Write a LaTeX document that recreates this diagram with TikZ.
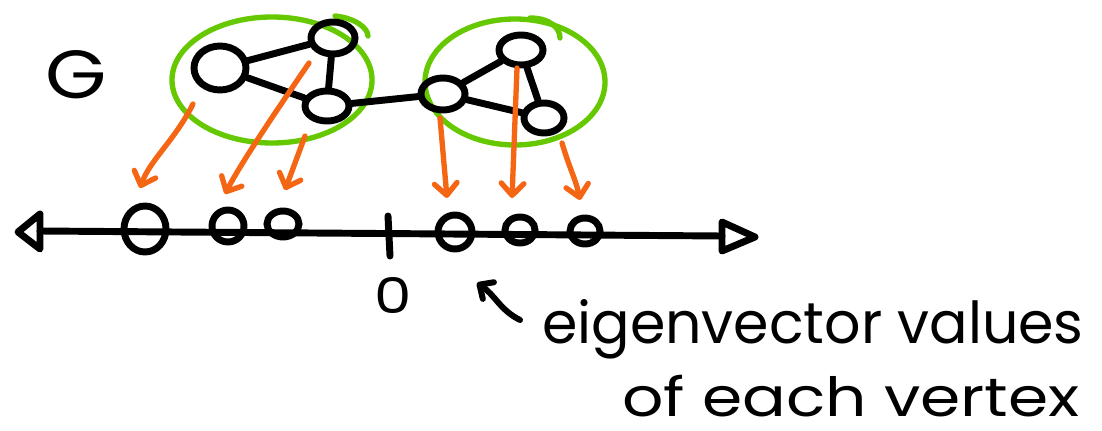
\documentclass[tikz,border=0pt]{standalone}
\usepackage{fontspec}
\setmainfont{Poppins}
\usepackage{graphicx}
\usetikzlibrary{shapes.geometric,arrows.meta}
\definecolor{hgreen}{RGB}{102,200,0}
\definecolor{horange}{RGB}{245,102,20}
\begin{document}
\begin{tikzpicture}[x=0.75pt,y=-0.75pt,
 ink/.style={line width=5.2pt, black, line cap=round, line join=round},
 vtx/.style={ellipse, draw, line width=5.2pt, inner sep=0pt},
 grn/.style={draw=hgreen, line width=4pt, line cap=round},
 oarr/.style={draw=horange, line width=4pt, line cap=round, -{Straight Barb[length=9pt,width=17pt,line width=4pt,round]}},
 barr/.style={ink, line width=4.5pt, -{Straight Barb[length=8pt,width=15pt,line width=4.5pt,round]}},
 txt/.style={inner sep=0pt},
]
\useasboundingbox (0,0) rectangle (1102,431);

% clusters
\draw[grn] (272,80) ellipse [x radius=100, y radius=63];
\draw[grn] (335,16) .. controls (355,18) and (368,28) .. (368,36);
\draw[grn] (515,82) ellipse [x radius=90, y radius=63];
\draw[grn] (530,18) .. controls (550,18) and (560,28) .. (560,38);

% vertices
\node[vtx, minimum width=52pt*0.75, minimum height=44pt*0.75] (A) at (220,68) {};
\node[vtx, minimum width=44pt*0.75, minimum height=32pt*0.75] (B) at (333,38) {};
\node[vtx, minimum width=44pt*0.75, minimum height=30pt*0.75] (C) at (327,106) {};
\node[vtx, minimum width=44pt*0.75, minimum height=32pt*0.75] (D) at (443,94) {};
\node[vtx, minimum width=44pt*0.75, minimum height=30pt*0.75] (E) at (521,50) {};
\node[vtx, minimum width=40pt*0.75, minimum height=30pt*0.75] (F) at (544,118) {};

\draw[ink] (A) -- (B);
\draw[ink] (A) -- (C);
\draw[ink] (B) -- (C);
\draw[ink] (C) -- (D);
\draw[ink] (D) -- (E);
\draw[ink] (D) -- (F);
\draw[ink] (E) -- (F);

% label G
\node[txt, anchor=base] (G) at (76,99) {\resizebox{46pt}{36pt}{G}};

% number line
\coordinate (L) at (40,231);
\coordinate (R) at (722,236);
\draw[ink] (L) -- (R);
\draw[ink] (40,214) -- (18,232) -- (40,249) -- cycle;
\draw[ink] (722,222) -- (755,237) -- (722,251) -- cycle;
\node[vtx, minimum width=42pt*0.75, minimum height=46pt*0.75] (p1) at (145,229) {};
\node[vtx, minimum width=32pt*0.75, minimum height=32pt*0.75] (p2) at (228,226) {};
\node[vtx, minimum width=32pt*0.75, minimum height=26pt*0.75] (p3) at (283,224) {};
\node[vtx, minimum width=34pt*0.75, minimum height=34pt*0.75] (p4) at (455,232) {};
\node[vtx, minimum width=30pt*0.75, minimum height=26pt*0.75] (p5) at (520,230) {};
\node[vtx, minimum width=30pt*0.75, minimum height=26pt*0.75] (p6) at (585,231) {};
\coordinate (t1) at (388,216);
\coordinate (t2) at (390,256);
\draw[ink] (t1) -- (t2);
\node[txt, anchor=base] (zero) at (393,313) {\resizebox{28pt}{27pt}{0}};

% orange arrows
\coordinate (s1) at (193,104); \coordinate (e1) at (140,188);
\coordinate (s2) at (309,63);  \coordinate (e2) at (225,194);
\coordinate (s3) at (305,136); \coordinate (e3) at (285,190);
\coordinate (s4) at (440,118); \coordinate (e4) at (447,198);
\coordinate (s5) at (517,68);  \coordinate (e5) at (512,198);
\coordinate (s6) at (562,143); \coordinate (e6) at (580,200);
\draw[oarr] (s1) .. controls (175,140) and (150,160) .. (e1);
\draw[oarr] (s2) .. controls (270,120) and (240,165) .. (e2);
\draw[oarr] (s3) -- (e3);
\draw[oarr] (s4) -- (e4);
\draw[oarr] (s5) -- (e5);
\draw[oarr] (s6) .. controls (570,170) and (576,180) .. (e6);

% annotation
\coordinate (a1) at (520,320);
\coordinate (a2) at (477,283);
\draw[barr] (a1) .. controls (500,310) and (495,295) .. (a2);
\node[txt, anchor=base west] (t1l) at (542,343) {\resizebox{406pt}{33pt}{eigenvector values}};
\node[txt, anchor=base west] (t2l) at (622,416) {\resizebox{343pt}{31pt}{of each vertex}};
\end{tikzpicture}
\end{document}
